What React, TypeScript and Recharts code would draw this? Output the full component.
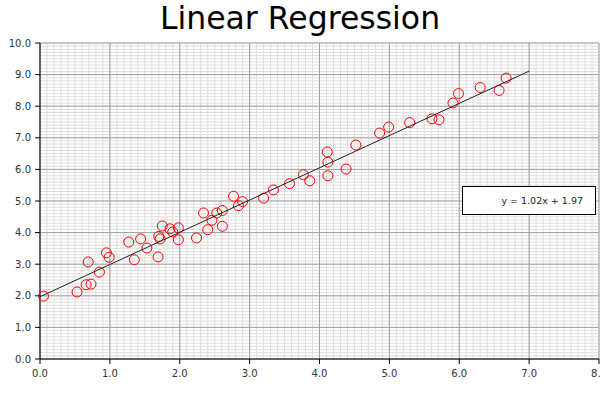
import {
  ScatterChart,
  Scatter,
  XAxis,
  YAxis,
  CartesianGrid,
  Legend,
} from 'recharts';

const FONT = '"DejaVu Sans", Verdana, sans-serif';

// sample points
const xValues = [
  0.05, 0.53, 0.66, 0.73, 0.69, 0.85, 0.95, 0.99, 1.27, 1.35,
  1.44, 1.53, 1.69, 1.7, 1.72, 1.75, 1.86, 1.9, 1.98, 1.98,
  2.24, 2.34, 2.4, 2.46, 2.53, 2.61, 2.61, 2.77, 2.84, 2.9,
  3.2, 3.34, 3.57, 3.77, 3.86, 4.11, 4.12, 4.12, 4.38, 4.52,
  4.86, 4.99, 5.29, 5.61, 5.71, 5.91, 5.99, 6.3, 6.57, 6.67,
];
const yValues = [
  1.99, 2.12, 2.35, 2.37, 3.07, 2.75, 3.36, 3.22, 3.7, 3.14,
  3.8, 3.51, 3.23, 3.88, 3.8, 4.21, 4.12, 4.02, 4.15, 3.77,
  3.83, 4.62, 4.09, 4.39, 4.62, 4.7, 4.2, 5.15, 4.85, 4.98,
  5.09, 5.35, 5.55, 5.83, 5.64, 6.55, 6.23, 5.8, 6.01, 6.77,
  7.15, 7.34, 7.48, 7.6, 7.57, 8.1, 8.4, 8.59, 8.5, 8.89,
];

// fitted line endpoints
const fitX = [0, 7];
const fitY = [1.97, 9.11];
const fitLabel = 'y = 1.02x + 1.97';

const xTicks = [0, 1, 2, 3, 4, 5, 6, 7, 8];
const yTicks = [0, 1, 2, 3, 4, 5, 6, 7, 8, 9, 10];
const xMinorTicks = Array.from({ length: 81 }, (_, i) => i / 10);
const yMinorTicks = Array.from({ length: 101 }, (_, i) => i / 10);

const points = xValues.map((x, i) => ({ x, y: yValues[i] }));
const fitPoints = fitX.map((x, i) => ({ x, y: fitY[i] }));

const Ring = (props: any) => {
  const { cx, cy } = props;
  if (cx == null || cy == null) return <g />;
  return <circle cx={cx} cy={cy} r={5} fill="none" stroke="#ff0000" strokeWidth={1} />;
};

const FitLegend = () => (
  <div
    style={{
      boxSizing: 'border-box',
      width: 134,
      height: 29,
      border: '1px solid #000',
      background: '#fff',
      textAlign: 'right',
      paddingRight: 12,
      lineHeight: '27px',
      fontSize: 9.5,
      fontFamily: FONT,
      color: '#222',
    }}
  >
    {fitLabel}
  </div>
);

const tickStyle = { fill: '#333', fontSize: 10, fontFamily: FONT };

export default function App() {
  return (
    <div style={{ position: 'absolute', left: 0, top: 0, width: 600, height: 400, background: '#fff' }}>
      <ScatterChart
        width={600}
        height={400}
        margin={{ top: 43, right: 1, bottom: 11, left: 0 }}
      >
        {/* minor grid every 0.1, major grid on the ticks */}
        <CartesianGrid
          stroke="#dedede"
          strokeWidth={1}
          verticalValues={xMinorTicks}
          horizontalValues={yMinorTicks}
        />
        <CartesianGrid stroke="#a0a0a0" strokeWidth={1} />
        <XAxis
          type="number"
          dataKey="x"
          domain={[0, 8]}
          ticks={xTicks}
          interval={0}
          tickFormatter={(v: number) => v.toFixed(1)}
          tick={tickStyle}
          tickSize={5}
          tickMargin={6}
          axisLine={{ stroke: '#000' }}
          tickLine={{ stroke: '#000' }}
          height={30}
        />
        <YAxis
          type="number"
          dataKey="y"
          domain={[0, 10]}
          ticks={yTicks}
          interval={0}
          tickFormatter={(v: number) => v.toFixed(1)}
          tick={tickStyle}
          tickSize={5}
          tickMargin={4}
          axisLine={{ stroke: '#000' }}
          tickLine={{ stroke: '#000' }}
          width={40}
        />
        <Scatter data={points} shape={Ring} isAnimationActive={false} legendType="none" />
        <Scatter
          data={fitPoints}
          line={{ stroke: '#222', strokeWidth: 1 }}
          shape={() => <g />}
          isAnimationActive={false}
          legendType="none"
        />
        <Legend
          align="center"
          verticalAlign="middle"
          content={FitLegend}
          wrapperStyle={{ left: 462, top: 186, width: 134, height: 29 }}
        />
      </ScatterChart>
      <div
        style={{
          position: 'absolute',
          left: 0,
          top: 0,
          width: 600,
          textAlign: 'center',
          fontSize: 31.5,
          fontFamily: FONT,
          color: '#000',
        }}
      >
        Linear Regression
      </div>
    </div>
  );
}
